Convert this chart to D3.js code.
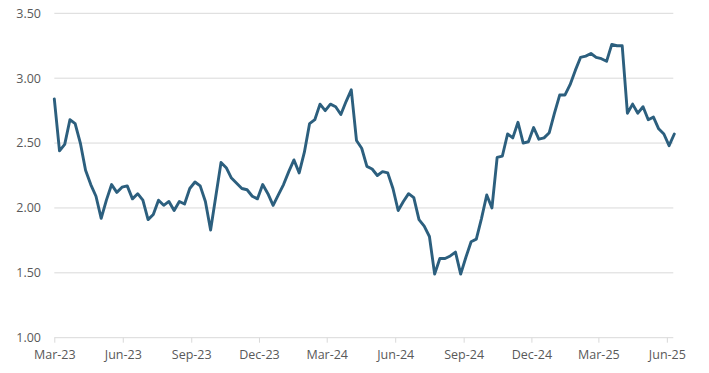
<!DOCTYPE html>
<html>
<head>
<meta charset="utf-8">
<script src="https://cdn.jsdelivr.net/npm/d3@7"></script>
<style>
  body { margin: 0; background: #fff; }
  svg { display: block; }
</style>
</head>
<body>
<script>
const w = 709, h = 373;

// weekly observations, first week of Mar-23 to mid Jun-25
const startDate = new Date(2023, 2, 3);
const values = [
  2.84, 2.44, 2.49, 2.68, 2.65, 2.50, 2.29, 2.18, 2.09, 1.92,
  2.06, 2.18, 2.12, 2.16, 2.17, 2.07, 2.11, 2.06, 1.91, 1.95,
  2.06, 2.02, 2.05, 1.98, 2.05, 2.03, 2.15, 2.20, 2.17, 2.05,
  1.83, 2.09, 2.35, 2.31, 2.23, 2.19, 2.15, 2.14, 2.09, 2.07,
  2.18, 2.11, 2.02, 2.10, 2.18, 2.28, 2.37, 2.27, 2.43, 2.65,
  2.68, 2.80, 2.75, 2.80, 2.78, 2.72, 2.82, 2.91, 2.52, 2.46,
  2.32, 2.30, 2.25, 2.28, 2.27, 2.15, 1.98, 2.05, 2.11, 2.08,
  1.91, 1.86, 1.78, 1.49, 1.61, 1.61, 1.63, 1.66, 1.49, 1.62,
  1.74, 1.76, 1.92, 2.10, 2.00, 2.39, 2.40, 2.57, 2.54, 2.66,
  2.50, 2.51, 2.62, 2.53, 2.54, 2.58, 2.73, 2.87, 2.87, 2.95,
  3.06, 3.16, 3.17, 3.19, 3.16, 3.15, 3.13, 3.26, 3.25, 3.25,
  2.73, 2.80, 2.73, 2.78, 2.68, 2.70, 2.61, 2.57, 2.48, 2.57
];
const dates = values.map((d, i) => d3.timeWeek.offset(startDate, i));
const yTicks = [1.0, 1.5, 2.0, 2.5, 3.0, 3.5];
const xTicks = d3.range(10).map(k => d3.timeMonth.offset(startDate, 3 * k));

const mLeft = 54.3, mRight = 674.3, mTop = 13.3, mBottom = 337.7;

const x = d3.scaleTime().domain([dates[0], dates[dates.length - 1]]).range([mLeft, mRight]);
const y = d3.scaleLinear().domain([1, 3.5]).range([mBottom, mTop]);

const svg = d3.select("body").append("svg").attr("width", w).attr("height", h);

// gridlines
svg.append("g")
  .selectAll("line")
  .data(yTicks)
  .enter()
  .append("line")
    .attr("x1", mLeft)
    .attr("x2", mRight - 1)
    .attr("y1", d => y(d))
    .attr("y2", d => y(d))
    .attr("stroke", "#d9d9d9")
    .attr("stroke-width", 1);

// y labels
svg.append("g")
  .selectAll("text")
  .data(yTicks)
  .enter()
  .append("text")
    .attr("x", 41)
    .attr("y", d => y(d))
    .attr("dy", "0.35em")
    .attr("text-anchor", "end")
    .attr("fill", "#595959")
    .attr("font-family", "'Open Sans', sans-serif")
    .attr("font-size", "12.5px")
    .text(d => d.toFixed(2));

// x axis
const xAxis = d3.axisBottom(x)
  .tickValues(xTicks)
  .tickFormat(d3.timeFormat("%b-%y"))
  .tickSize(5)
  .tickPadding(7);

const gx = svg.append("g")
  .attr("transform", "translate(0," + mBottom + ")")
  .call(xAxis);
gx.select(".domain").remove();
gx.selectAll(".tick line").attr("stroke", "#d9d9d9");
gx.selectAll(".tick text")
  .attr("fill", "#595959")
  .attr("font-family", "'Open Sans', sans-serif")
  .attr("font-size", "12.5px");

// series line
const line = d3.line()
  .x((d, i) => x(dates[i]))
  .y(d => y(d));

svg.append("path")
  .datum(values)
  .attr("d", line)
  .attr("fill", "none")
  .attr("stroke", "#2c5f7e")
  .attr("stroke-width", 2.9)
  .attr("stroke-linejoin", "round")
  .attr("stroke-linecap", "round");
</script>
</body>
</html>
